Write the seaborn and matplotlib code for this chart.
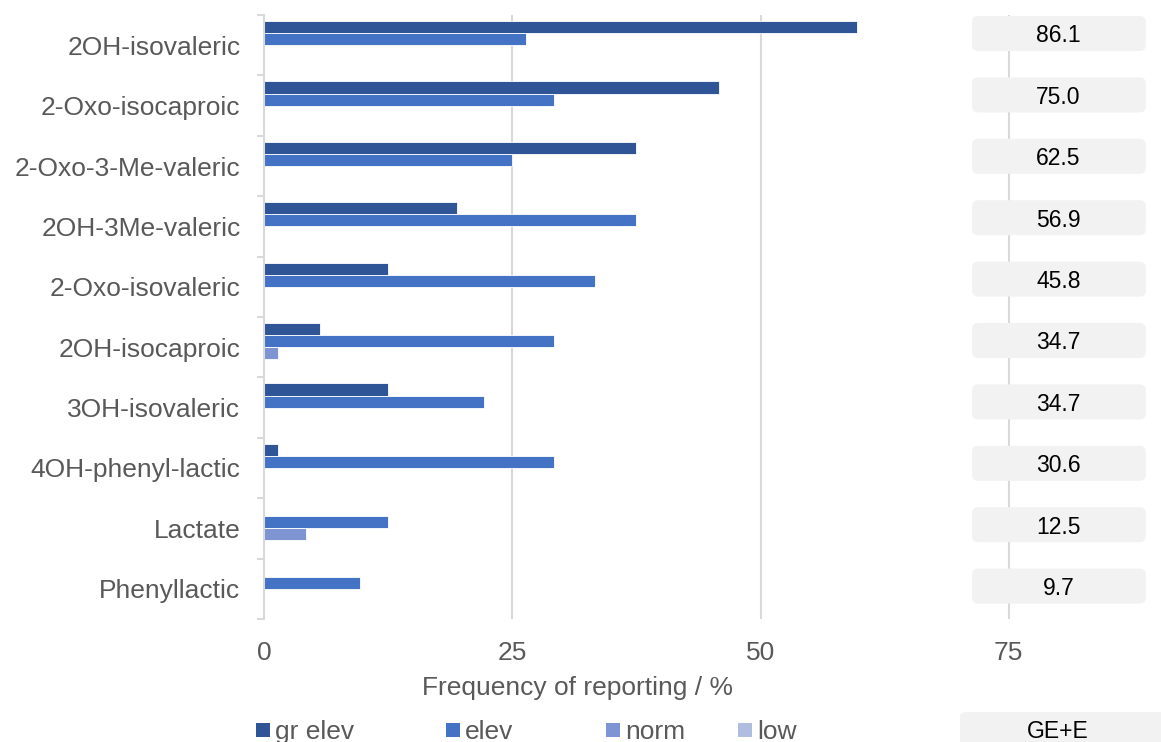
import matplotlib
matplotlib.use("Agg")
import matplotlib.pyplot as plt
from matplotlib.patches import FancyBboxPatch, Rectangle
import numpy as np
import pandas as pd
import seaborn as sns

# Organic acids, frequency of reporting (%) per result class
categories = [
    "2OH-isovaleric", "2-Oxo-isocaproic", "2-Oxo-3-Me-valeric", "2OH-3Me-valeric",
    "2-Oxo-isovaleric", "2OH-isocaproic", "3OH-isovaleric", "4OH-phenyl-lactic",
    "Lactate", "Phenyllactic",
]
series = ["gr elev", "elev", "norm", "low"]
gr_elev = [59.7, 45.8, 37.5, 19.4, 12.5, 5.6, 12.5, 1.4, 0.0, 0.0]
elev = [26.4, 29.2, 25.0, 37.5, 33.3, 29.2, 22.2, 29.2, 12.5, 9.7]
norm = [0.0, 0.0, 0.0, 0.0, 0.0, 1.4, 0.0, 0.0, 4.2, 0.0]
low = [0.0, 0.0, 0.0, 0.0, 0.0, 0.0, 0.0, 0.0, 0.0, 0.0]
ge_plus_e = ["86.1", "75.0", "62.5", "56.9", "45.8", "34.7", "34.7", "30.6", "12.5", "9.7"]
xticks = [0, 25, 50, 75]

colors = ["#2F5597", "#4472C4", "#7F95D3", "#B0BCE0"]
grey_text = "#595959"
grid_col = "#D9D9D9"

sns.set_theme(style="white")
plt.rcParams["font.family"] = ["Liberation Sans", "DejaVu Sans"]

df = pd.DataFrame({
    "category": np.repeat(categories, len(series)),
    "series": series * len(categories),
    "value": np.column_stack([gr_elev, elev, norm, low]).ravel(),
})

W, H = 1161, 742
fig = plt.figure(figsize=(W / 100, H / 100), dpi=100)
ax = fig.add_axes([264 / W, (H - 619) / H, 893.7 / W, 604 / H])

sns.barplot(
    data=df, y="category", x="value", hue="series", order=categories,
    hue_order=series, palette=colors, saturation=1, orient="h", width=0.8,
    edgecolor="white", linewidth=0.6, legend=False, ax=ax, zorder=3,
)

ax.set_xlim(0, 90)
ax.set_ylim(9.5, -0.5)
ax.set_xticks(xticks)
ax.set_xticklabels([str(t) for t in xticks], fontsize=19, color=grey_text)
ax.tick_params(axis="x", length=0, pad=16)
ax.set_yticks(range(len(categories)))
ax.set_yticklabels(categories, fontsize=19, color=grey_text)
ax.tick_params(axis="y", which="major", length=0, pad=17)
ax.set_yticks(np.arange(-0.5, len(categories), 1.0), minor=True)
ax.tick_params(axis="y", which="minor", length=5, width=1.5, color=grid_col, left=True)
ax.set_xlabel("")
ax.set_ylabel("")

for t in xticks[1:]:
    ax.axvline(t, color=grid_col, lw=1.5, zorder=1)

for side in ["top", "right", "bottom"]:
    ax.spines[side].set_visible(False)
ax.spines["left"].set_color(grid_col)
ax.spines["left"].set_linewidth(1.5)
ax.spines["left"].set_zorder(4)

# GE+E totals in rounded boxes at the right
for i, txt in enumerate(ge_plus_e):
    yc = 1.0166 * i - 0.194
    box = FancyBboxPatch(
        (71.3, yc - 0.29), 17.5, 0.58,
        boxstyle="round,pad=0,rounding_size=0.6",
        mutation_aspect=0.17, facecolor="#F2F2F2", edgecolor="none", zorder=5,
    )
    ax.add_patch(box)
    ax.text(80.0, yc, txt, ha="center", va="center_baseline", fontsize=16.5,
            color="black", zorder=6)

fig.text(578 / W, 1 - 688 / H, "Frequency of reporting / %", ha="center",
         va="center", fontsize=19, color=grey_text)

# Legend along the bottom edge
leg_x = [256, 446, 606, 738]
for x, lab, c in zip(leg_x, series, colors):
    fig.add_artist(Rectangle((x / W, 1 - 737 / H), 14 / W, 14 / H,
                             transform=fig.transFigure, facecolor=c, edgecolor="none"))
    fig.text((x + 19) / W, 1 - 739 / H, lab, ha="left", va="baseline",
             fontsize=19, color=grey_text)

fig.add_artist(FancyBboxPatch((960 / W, 1 - 745 / H), 215 / W, 33 / H,
                              boxstyle="round,pad=0,rounding_size=0.006",
                              transform=fig.transFigure, facecolor="#F2F2F2",
                              edgecolor="none"))
fig.text(1058 / W, 1 - 729 / H, "GE+E", ha="center", va="center_baseline",
         fontsize=16.5, color="black")

fig.savefig("out.png", dpi=100)
